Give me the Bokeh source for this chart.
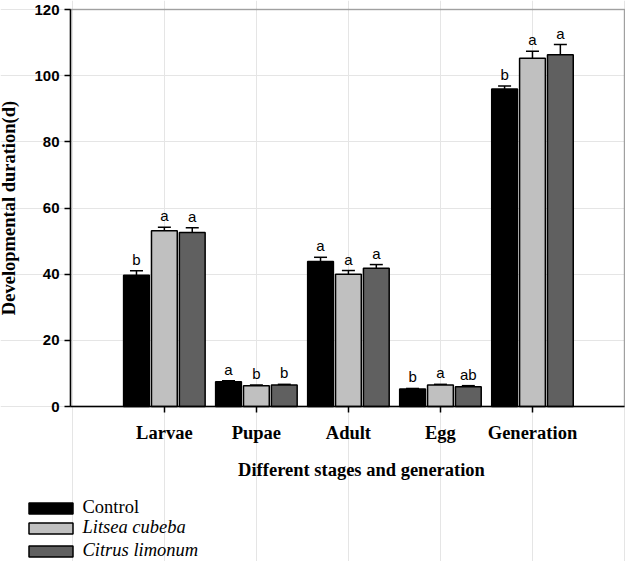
from bokeh.plotting import figure
from bokeh.models import (ColumnDataSource, Range1d, FixedTicker, Whisker, TeeHead,
                          Legend, LegendItem, LinearAxis, BoxAnnotation, Label)
from bokeh.embed import file_html
from bokeh.resources import INLINE
from bokeh.core.properties import value

# ---------------- data ----------------
stages = ["Larvae", "Pupae", "Adult", "Egg", "Generation"]
series_names = ["Control", "Litsea cubeba", "Citrus limonum"]

control = [39.7, 7.5, 43.8, 5.3, 96.0]
control_err = [1.3, 0.3, 1.3, 0.15, 0.9]
litsea = [53.1, 6.3, 40.0, 6.5, 105.3]
litsea_err = [1.1, 0.2, 1.1, 0.2, 2.1]
citrus = [52.6, 6.5, 41.8, 6.0, 106.3]
citrus_err = [1.4, 0.2, 1.1, 0.3, 3.1]

control_letters = ["b", "a", "a", "b", "b"]
litsea_letters = ["a", "b", "a", "a", "a"]
citrus_letters = ["a", "b", "a", "ab", "a"]

colors = ["#000000", "#c0c0c0", "#606060"]
y_ticks = [0, 20, 40, 60, 80, 100, 120]
x_title = "Different stages and generation"
y_title = "Developmental duration(d)"

# ---------------- layout constants (pixels) ----------------
W, H = 625, 561
AX_X = 70        # pixel x of the y axis
RIGHT_X = 624    # pixel x of the right border
TOP_Y = 9        # pixel y of value 120
ZERO_Y = 406     # pixel y of value 0
X_LO, X_HI = -0.02, 6.0
Y_LO, Y_HI = 0, 120

ppx = (RIGHT_X - AX_X) / (X_HI - X_LO)
ppy = (ZERO_Y - TOP_Y) / (Y_HI - Y_LO)
x_range = Range1d(X_LO - AX_X / ppx, X_HI + (W - RIGHT_X) / ppx)
y_range = Range1d(Y_LO - (H - ZERO_Y) / ppy, Y_HI + TOP_Y / ppy)

SERIF = "Liberation Serif"
SANS = "Liberation Sans"

p = figure(width=W, height=H, output_backend="svg", toolbar_location=None,
           x_range=x_range, y_range=y_range,
           x_axis_location=None, y_axis_location=None,
           min_border=0, min_border_left=0, min_border_right=0,
           min_border_top=0, min_border_bottom=0)
p.outline_line_color = None
p.background_fill_color = "white"
p.border_fill_color = "white"

# frame box (top and right border)
p.add_layout(BoxAnnotation(left=X_LO, right=X_HI, bottom=Y_LO, top=Y_HI,
                           fill_alpha=0, line_color="black", line_width=1.5,
                           level="underlay"))

all_vals = [control, litsea, citrus]
all_errs = [control_err, litsea_err, citrus_err]
all_letters = [control_letters, litsea_letters, citrus_letters]
offsets = [-0.303, 0.0, 0.303]

renderers = []
for k in range(3):
    xs = [i + 1 + offsets[k] for i in range(len(stages))]
    vals = all_vals[k]
    errs = all_errs[k]
    src = ColumnDataSource(dict(x=xs, top=vals,
                                upper=[v + e for v, e in zip(vals, errs)],
                                lab=all_letters[k]))
    r = p.vbar(x="x", top="top", width=0.28, bottom=0, source=src,
               fill_color=colors[k], line_color="black", line_width=1.5)
    renderers.append(r)
    w = Whisker(base="x", lower="top", upper="upper", source=src, dimension="height",
                line_color="black", line_width=1.5,
                upper_head=TeeHead(size=13, line_color="black", line_width=1.5),
                lower_head=None)
    p.add_layout(w)
    p.text(x="x", y="upper", text="lab", source=src, text_align="center",
           text_baseline="bottom", y_offset=-3, text_font=value(SANS),
           text_font_size="15px", text_color="black")

# ---------------- axes (fixed inside the frame) ----------------
xaxis = LinearAxis(fixed_location=0, bounds=(X_LO, X_HI),
                   ticker=FixedTicker(ticks=[1, 2, 3, 4, 5]))
xaxis.major_label_overrides = {i + 1: s for i, s in enumerate(stages)}
xaxis.major_label_text_font = SERIF
xaxis.major_label_text_font_style = "bold"
xaxis.major_label_text_font_size = "18.5px"
xaxis.major_label_text_color = "black"
xaxis.major_label_standoff = 10
xaxis.major_tick_out = 6
xaxis.major_tick_in = 0
xaxis.minor_tick_line_color = None
xaxis.axis_line_width = 1.5
xaxis.axis_line_color = "black"
xaxis.major_tick_line_width = 1.5
xaxis.major_tick_line_color = "black"
p.add_layout(xaxis, "below")

# x-axis title (placed where the reference has it, slightly right of centre)
p.add_layout(Label(x=361, y=H - 469, x_units="screen", y_units="screen",
                   text=x_title, text_align="center", text_baseline="middle",
                   text_font=SERIF, text_font_style="bold",
                   text_font_size="18.5px", text_color="black"))

yaxis = LinearAxis(fixed_location=X_LO, bounds=(Y_LO, Y_HI),
                   ticker=FixedTicker(ticks=y_ticks))
yaxis.major_label_text_font = SANS
yaxis.major_label_text_font_style = "bold"
yaxis.major_label_text_font_size = "15px"
yaxis.major_label_text_color = "black"
yaxis.major_label_standoff = 5
yaxis.major_tick_out = 6
yaxis.major_tick_in = 0
yaxis.minor_tick_line_color = None
yaxis.axis_line_width = 1.5
yaxis.axis_line_color = "black"
yaxis.major_tick_line_width = 1.5
yaxis.major_tick_line_color = "black"
yaxis.axis_label = y_title
yaxis.axis_label_text_font = SERIF
yaxis.axis_label_text_font_style = "bold"
yaxis.axis_label_text_font_size = "18.5px"
yaxis.axis_label_text_color = "black"
yaxis.axis_label_standoff = 12
p.add_layout(yaxis, "left")

# ---------------- legends (normal + italic labels) ----------------
def make_legend(items, style, loc, spacing):
    return Legend(items=items, location=loc, orientation="vertical",
                  label_text_font=SERIF, label_text_font_size="18.5px",
                  label_text_font_style=style, label_text_color="black",
                  glyph_width=55, glyph_height=14, label_height=21,
                  label_standoff=5, spacing=spacing, padding=0, margin=0,
                  background_fill_alpha=0, border_line_alpha=0)

leg1 = make_legend([LegendItem(label=series_names[0], renderers=[renderers[0]])],
                   "normal", (22.5, 43), 0)
leg2 = make_legend([LegendItem(label=series_names[1], renderers=[renderers[1]]),
                    LegendItem(label=series_names[2], renderers=[renderers[2]])],
                   "italic", (22.5, 0), 2)
p.add_layout(leg1)
p.add_layout(leg2)

open("out.html", "w").write(file_html(p, INLINE))
